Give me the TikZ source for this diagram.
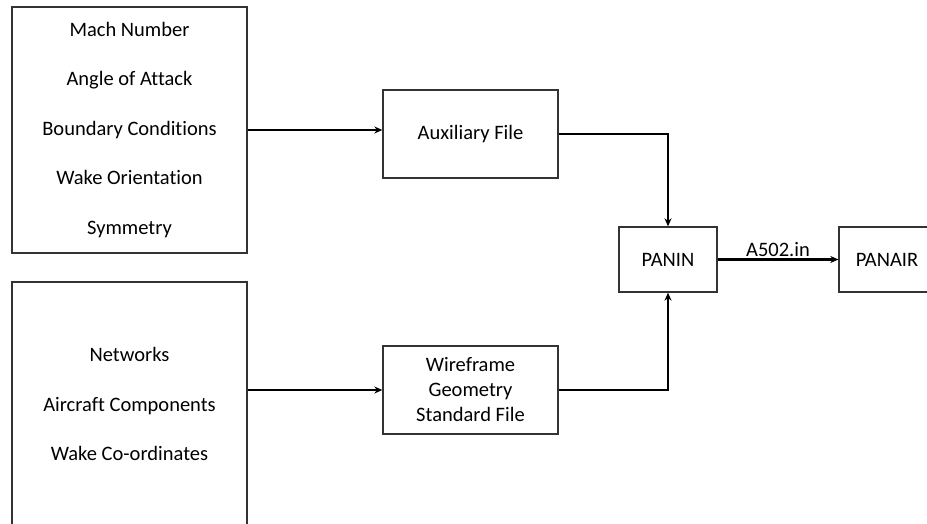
\documentclass[tikz,border=0pt]{standalone}
\usepackage{fontspec}
\setmainfont[RawFeature={-liga;-clig;-dlig;-calt}]{Carlito}
\usetikzlibrary{arrows.meta}

\begin{document}
\begin{tikzpicture}[x=1pt, y=-1pt, font=\fontsize{20.5}{49.5}\selectfont,
		box/.style={draw=black!80, line width=1.3pt, align=center, inner sep=0pt},
		flow/.style={line width=2.5pt, -{Stealth[length=8pt,width=7pt]}}]
				
				% page size and clipping
				\useasboundingbox (0,0) rectangle (927,524);
				\clip (0,0) rectangle (927,524);
				\fill[white] (0,0) rectangle (927,524);
				
				% input boxes on the left
				\node[box, minimum width=235pt, minimum height=246pt] (params) at (129.5,130)
					{Mach Number\\Angle of Attack\\Boundary Conditions\\Wake Orientation\\Symmetry};
				\node[box, minimum width=235pt, minimum height=244pt] (geom) at (129.5,404)
					{Networks\\Aircraft Components\\Wake Co-ordinates};
				
				% intermediate files
				\node[box, minimum width=175pt, minimum height=88pt] (aux) at (470.5,134) {Auxiliary File};
				\node[box, minimum width=175pt, minimum height=88pt, font=\fontsize{20.5}{25}\selectfont] (wire) at (470.5,390)
					{Wireframe\\Geometry\\Standard File};
				
				% programs
				\node[box, minimum width=98pt, minimum height=65pt] (panin) at (668,259.5) {PANIN};
				\node[box, minimum width=96pt, minimum height=65pt] (panair) at (887,259.5) {PANAIR};
				
				% connectors
				\draw[flow] (params.east |- 0,130) -- (aux.west |- 0,130);
				\draw[flow] (wire.west -| geom.east) -- (wire.west);
				\draw[flow] (aux.east) -| (panin.north);
				\draw[flow] (wire.east) -| (panin.south);
				\draw[flow] (panin.east) -- node[above=-2pt] {A502.in} (panair.west);
			\end{tikzpicture}
\end{document}
